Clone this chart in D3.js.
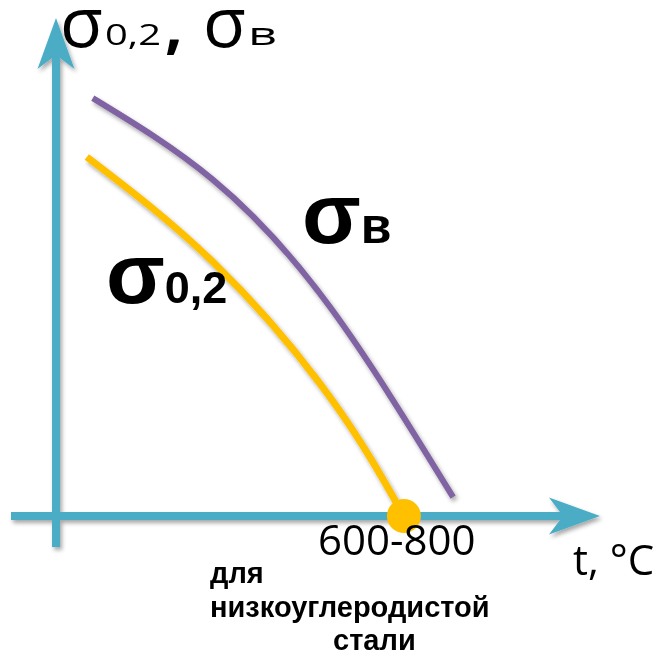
<!DOCTYPE html>
<html lang="ru">
  <head>
    <meta charset="UTF-8" />
    <title>σ0,2, σв от температуры</title>
    <style>
      body { margin: 0; background: #fff; }
      .curve { fill: none; stroke-linecap: butt; }
      .axis-line { stroke: #4bacc6; stroke-width: 8px; fill: none; }
      .arrow { fill: #4bacc6; }
    </style>
  </head>
  <body>
    <script src="https://cdn.jsdelivr.net/npm/d3@7"></script>
    <script>
      // temperature, °C (schematic) and relative strength, %
      var tempB = [74, 316, 551, 799];
      var sigmaB = [83.9, 67.5, 42.0, 3.8];

      var temp02 = [62, 316, 551, 700];
      var sigma02 = [72.1, 51.0, 23.9, 0];

      var pointTemp = [700];
      var pointLabel = ["600-800"];

      var w = 657, h = 656;

      var xScale = d3.scaleLinear().domain([0, 1000]).range([56, 553]);
      var yScale = d3.scaleLinear().domain([0, 100]).range([516, 18]);

      var svg = d3.select("body").append("svg")
                  .attr("width", w)
                  .attr("height", h);

      var defs = svg.append("defs");
      var shadow = defs.append("filter")
                       .attr("id", "shadow")
                       .attr("x", "-20%").attr("y", "-20%")
                       .attr("width", "140%").attr("height", "140%");
      shadow.append("feDropShadow")
            .attr("dx", 2).attr("dy", 3)
            .attr("stdDeviation", 2)
            .attr("flood-color", "#000")
            .attr("flood-opacity", 0.35);

      // axes
      var x0 = xScale(0), y0 = yScale(0);
      var xEnd = 600, yEnd = 18;
      var axes = svg.append("g").attr("filter", "url(#shadow)");

      axes.append("line").attr("class", "axis-line")
          .attr("x1", x0 - 45).attr("x2", xEnd - 30)
          .attr("y1", y0).attr("y2", y0);
      axes.append("line").attr("class", "axis-line")
          .attr("x1", x0).attr("x2", x0)
          .attr("y1", y0 + 31).attr("y2", yEnd + 30);

      // stealth arrow heads
      var arrowPts = [[0, 0], [-51, -18.5], [-37, 0], [-51, 18.5]];
      axes.append("path").attr("class", "arrow")
          .attr("d", "M" + arrowPts.join("L") + "Z")
          .attr("transform", "translate(" + xEnd + "," + y0 + ")");
      axes.append("path").attr("class", "arrow")
          .attr("d", "M" + arrowPts.join("L") + "Z")
          .attr("transform", "translate(" + x0 + "," + yEnd + ") rotate(-90)");

      var line = d3.line()
                   .x(function(d) { return xScale(d[0]); })
                   .y(function(d) { return yScale(d[1]); })
                   .curve(d3.curveNatural);

      svg.append("path")
         .datum(d3.zip(tempB, sigmaB))
         .attr("class", "curve")
         .attr("filter", "url(#shadow)")
         .attr("stroke", "#8064a2")
         .attr("stroke-width", 6)
         .attr("d", line);

      svg.append("path")
         .datum(d3.zip(temp02, sigma02))
         .attr("class", "curve")
         .attr("filter", "url(#shadow)")
         .attr("stroke", "#ffc000")
         .attr("stroke-width", 7)
         .attr("d", line);

      svg.selectAll("circle.pt")
         .data(pointTemp)
         .enter()
         .append("circle")
         .attr("class", "pt")
         .attr("cx", function(d) { return xScale(d); })
         .attr("cy", y0)
         .attr("r", 17)
         .attr("fill", "#ffc000");

      svg.selectAll("text.pt-label")
         .data(pointLabel)
         .enter()
         .append("text")
         .attr("class", "pt-label")
         .attr("x", xScale(pointTemp[0]) - 86)
         .attr("y", 555)
         .attr("font-family", "Open Sans")
         .attr("font-size", 42)
         .text(function(d) { return d; });

      // y axis title: σ0,2, σв
      var yTitle = svg.append("text")
                      .attr("y", 47)
                      .attr("font-family", "Open Sans")
                      .attr("fill", "#000");
      yTitle.append("tspan").attr("x", 60).attr("font-size", 70).text("σ");
      yTitle.append("tspan").attr("x", 105).attr("font-size", 30).attr("y", 45)
            .attr("textLength", 56).attr("lengthAdjust", "spacingAndGlyphs").text("0,2");
      yTitle.append("tspan").attr("x", 165).attr("font-size", 62).attr("font-weight", "bold").attr("y", 47).text(",");
      yTitle.append("tspan").attr("x", 203).attr("font-size", 70).text("σ");
      yTitle.append("tspan").attr("x", 248).attr("font-size", 31).attr("y", 45)
            .attr("textLength", 29).attr("lengthAdjust", "spacingAndGlyphs").text("в");

      svg.append("text")
         .attr("x", 573).attr("y", 575)
         .attr("font-family", "Open Sans")
         .attr("font-size", 42)
         .text("t, °C");

      // curve labels
      var labB = svg.append("text")
                    .attr("x", 302).attr("y", 243)
                    .attr("font-family", "Liberation Sans")
                    .attr("font-weight", "bold");
      labB.append("tspan").attr("font-size", 86).text("σ");
      labB.append("tspan").attr("font-size", 50).text("в");

      var lab02 = svg.append("text")
                     .attr("x", 106).attr("y", 303)
                     .attr("font-family", "Liberation Sans")
                     .attr("font-weight", "bold");
      lab02.append("tspan").attr("font-size", 86).text("σ");
      lab02.append("tspan").attr("font-size", 45).text("0,2");

      // note
      var note = [["для", 210, 583], ["низкоуглеродистой", 210, 617], ["стали", 333, 650]];
      svg.selectAll("text.note")
         .data(note)
         .enter()
         .append("text")
         .attr("class", "note")
         .attr("x", function(d) { return d[1]; })
         .attr("y", function(d) { return d[2]; })
         .attr("font-family", "Liberation Sans")
         .attr("font-weight", "bold")
         .attr("font-size", 29)
         .text(function(d) { return d[0]; });
    </script>
  </body>
</html>
